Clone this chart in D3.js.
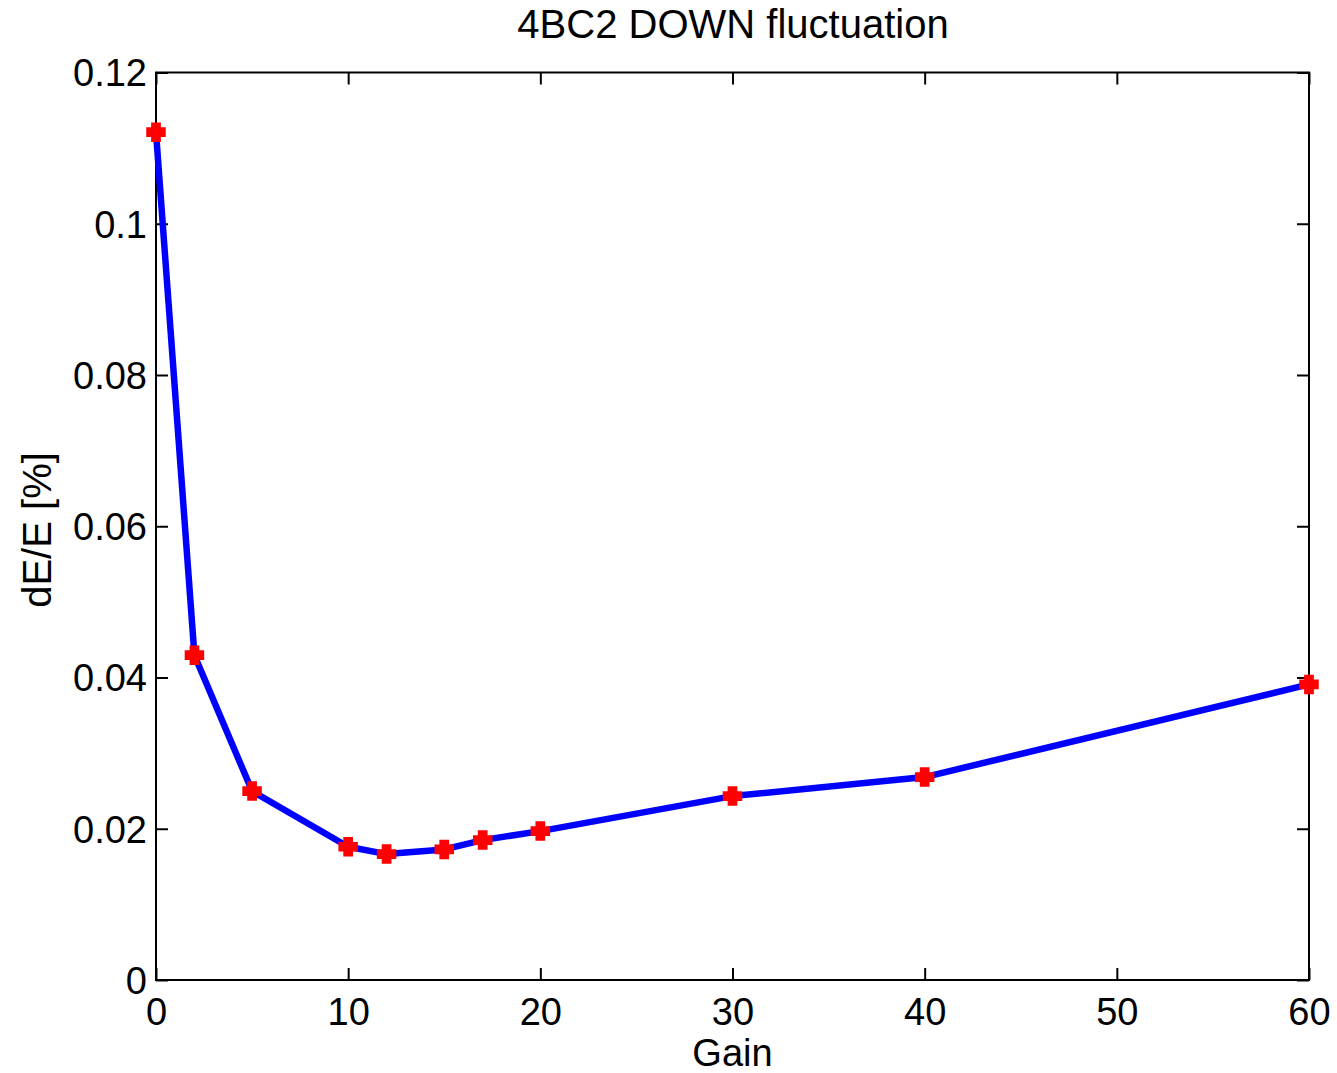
<!DOCTYPE html>
<html><head><meta charset="utf-8">
<script src="https://cdn.jsdelivr.net/npm/d3@7"></script>
<style>body{margin:0;background:#fff}svg{display:block}text{font-family:"Liberation Sans",Arial,sans-serif;fill:#000}</style>
</head><body>
<script>
const gain = [0, 2, 5, 10, 12, 15, 17, 20, 30, 40, 60];
const dEE = [0.1121, 0.04295, 0.02498, 0.01762, 0.01665, 0.01727, 0.0185, 0.01969, 0.02432, 0.02683, 0.03908];
const xTicks = [0, 10, 20, 30, 40, 50, 60];
const yTicks = [0, 0.02, 0.04, 0.06, 0.08, 0.1, 0.12];
const yTickLabels = ["0", "0.02", "0.04", "0.06", "0.08", "0.1", "0.12"];
const title = "4BC2 DOWN fluctuation";
const xLabel = "Gain";
const yLabel = "dE/E [%]";

const W = 1337, H = 1073;
const m = {l: 156, r: 1309, t: 72.5, b: 980};
const svg = d3.select("body").append("svg").attr("width", W).attr("height", H);
const x = d3.scaleLinear().domain([0, 60]).range([m.l, m.r]);
const y = d3.scaleLinear().domain([0, 0.12]).range([m.b, m.t]);
const tl = 12;

const gx = svg.append("g").attr("transform", `translate(0,${m.b})`)
  .call(d3.axisBottom(x).tickValues(xTicks).tickSizeInner(-tl).tickSizeOuter(0).tickPadding(tl + 20).tickFormat(d3.format("d")));
const gxt = svg.append("g").attr("transform", `translate(0,${m.t})`)
  .call(d3.axisTop(x).tickValues(xTicks).tickSizeInner(-tl).tickSizeOuter(0).tickFormat(""));
const gy = svg.append("g").attr("transform", `translate(${m.l},0)`)
  .call(d3.axisLeft(y).tickValues(yTicks).tickSizeInner(-tl).tickSizeOuter(0).tickPadding(tl - 3).tickFormat((d, i) => yTickLabels[i]));
const gyr = svg.append("g").attr("transform", `translate(${m.r},0)`)
  .call(d3.axisRight(y).tickValues(yTicks).tickSizeInner(-tl).tickSizeOuter(0).tickFormat(""));
[gx, gxt, gy, gyr].forEach(g => {
  g.select(".domain").remove();
  g.selectAll(".tick line").attr("stroke", "#000").attr("stroke-width", 2);
  g.selectAll(".tick text").attr("font-size", 38).attr("fill", "#000");
});
gy.selectAll(".tick text").attr("dy", "0.35em");
gx.selectAll(".tick text").attr("dy", "0.35em");

svg.append("rect").attr("x", m.l).attr("y", m.t).attr("width", m.r - m.l).attr("height", m.b - m.t)
  .attr("fill", "none").attr("stroke", "#000").attr("stroke-width", 2);

const line = d3.line().x((d, i) => x(gain[i])).y(d => y(d));
svg.append("path").datum(dEE).attr("d", line).attr("fill", "none")
  .attr("stroke", "#0000ff").attr("stroke-width", 6.5).attr("stroke-linejoin", "round");

// chunky plus marker
const plus = {draw(ctx, size) {
  const r = Math.sqrt(size) / 2, a = r * 0.5;
  ctx.moveTo(-a, -r); ctx.lineTo(a, -r); ctx.lineTo(a, -a); ctx.lineTo(r, -a); ctx.lineTo(r, a);
  ctx.lineTo(a, a); ctx.lineTo(a, r); ctx.lineTo(-a, r); ctx.lineTo(-a, a); ctx.lineTo(-r, a);
  ctx.lineTo(-r, -a); ctx.lineTo(-a, -a); ctx.closePath();
}};
svg.append("g").selectAll("path").data(dEE).join("path")
  .attr("transform", (d, i) => `translate(${x(gain[i])},${y(d)})`)
  .attr("d", d3.symbol().type(plus).size(380)).attr("fill", "#ff0000");

svg.append("text").attr("x", 733).attr("y", 38).attr("text-anchor", "middle").attr("font-size", 40).text(title);
svg.append("text").attr("x", x(30)).attr("y", 1066).attr("text-anchor", "middle").attr("font-size", 38).text(xLabel);
svg.append("text").attr("transform", `translate(51,${530}) rotate(-90)`).attr("text-anchor", "middle").attr("font-size", 40).text(yLabel);
</script>
</body></html>
